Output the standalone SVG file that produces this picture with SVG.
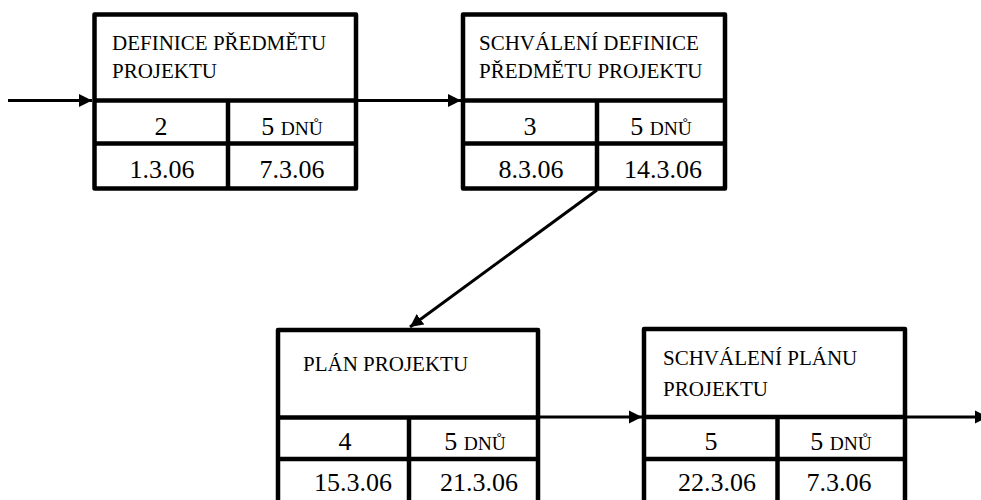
<svg xmlns="http://www.w3.org/2000/svg" width="981" height="500" viewBox="0 0 981 500">
<defs>
<marker id="ah" markerUnits="userSpaceOnUse" markerWidth="14" markerHeight="14" viewBox="0 0 14 14" refX="13" refY="7" orient="auto">
<path d="M0,0.5 L13,7 L0,13.5 Z" fill="#000"/>
</marker>
<style>
.box{fill:#fff;stroke:#000;stroke-width:4.5;stroke-linejoin:round}
.ln{stroke:#000;stroke-width:4.5;fill:none}
.con{stroke:#000;stroke-width:3;fill:none;marker-end:url(#ah)}
text{font-family:"Times New Roman","Liberation Serif","DejaVu Serif",serif;fill:#000}
.h{font-size:21px}
.n{font-size:26px;text-anchor:middle}
.sc{font-size:19.5px}
</style>
</defs>
<rect width="981" height="500" fill="#fff"/>
<g id="connectors">
<line class="con" x1="8" y1="100.5" x2="92" y2="100.5"/>
<line class="con" x1="356" y1="100.5" x2="461" y2="100.5"/>
<line class="con" x1="597" y1="190" x2="410" y2="327"/>
<line class="con" x1="538" y1="417" x2="642" y2="417"/>
<line class="con" x1="905" y1="417" x2="988" y2="417"/>
</g>
<g id="node1">
<rect class="box" x="94.5" y="14.5" width="261.5" height="174"/>
<line class="ln" x1="94.5" y1="100.5" x2="356" y2="100.5"/>
<line class="ln" x1="94.5" y1="143.5" x2="356" y2="143.5"/>
<line class="ln" x1="228" y1="100.5" x2="228" y2="188.5"/>
<text class="h" x="112" y="49.5">DEFINICE PŘEDMĚTU</text>
<text class="h" x="112" y="77.5">PROJEKTU</text>
<text class="n" x="161" y="134.5">2</text>
<text class="n" x="292" y="134.5">5 <tspan class="sc">DNŮ</tspan></text>
<text class="n" x="162" y="178">1.3.06</text>
<text class="n" x="292" y="178">7.3.06</text>
</g>
<g id="node2">
<rect class="box" x="463" y="14.5" width="262" height="174"/>
<line class="ln" x1="463" y1="100.5" x2="725" y2="100.5"/>
<line class="ln" x1="463" y1="143.5" x2="725" y2="143.5"/>
<line class="ln" x1="597" y1="100.5" x2="597" y2="188.5"/>
<text class="h" x="479" y="49.5">SCHVÁLENÍ DEFINICE</text>
<text class="h" x="479" y="77.5">PŘEDMĚTU PROJEKTU</text>
<text class="n" x="530" y="134.5">3</text>
<text class="n" x="661" y="134.5">5 <tspan class="sc">DNŮ</tspan></text>
<text class="n" x="531" y="178">8.3.06</text>
<text class="n" x="663" y="178">14.3.06</text>
</g>
<g id="node3">
<rect class="box" x="278" y="330" width="260" height="190"/>
<line class="ln" x1="278" y1="417.5" x2="538" y2="417.5"/>
<line class="ln" x1="278" y1="459" x2="538" y2="459"/>
<line class="ln" x1="409" y1="417.5" x2="409" y2="520"/>
<text class="h" x="303" y="370.5">PLÁN PROJEKTU</text>
<text class="n" x="345" y="450">4</text>
<text class="n" x="475" y="450">5 <tspan class="sc">DNŮ</tspan></text>
<text class="n" x="353" y="491">15.3.06</text>
<text class="n" x="479" y="491">21.3.06</text>
</g>
<g id="node4">
<rect class="box" x="644" y="329" width="261" height="191"/>
<line class="ln" x1="644" y1="417" x2="905" y2="417"/>
<line class="ln" x1="644" y1="459" x2="905" y2="459"/>
<line class="ln" x1="777.5" y1="417" x2="777.5" y2="520"/>
<text class="h" x="663" y="364.5">SCHVÁLENÍ PLÁNU</text>
<text class="h" x="663" y="395.5">PROJEKTU</text>
<text class="n" x="711" y="450">5</text>
<text class="n" x="841" y="450">5 <tspan class="sc">DNŮ</tspan></text>
<text class="n" x="717" y="491">22.3.06</text>
<text class="n" x="839" y="491">7.3.06</text>
</g>
</svg>
